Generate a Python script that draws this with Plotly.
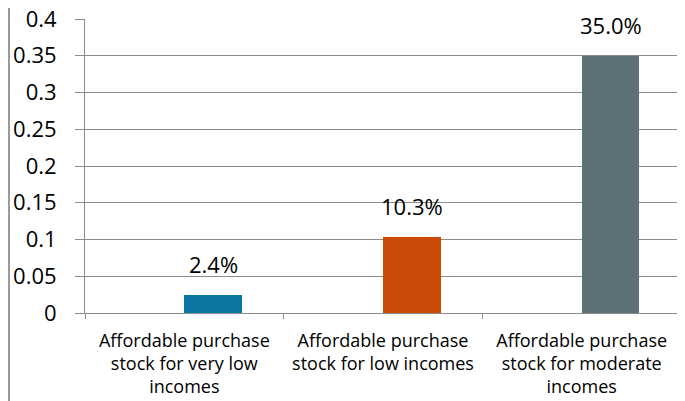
import plotly.graph_objects as go

categories = [
    "Affordable purchase<br>stock for very low<br>incomes",
    "Affordable purchase<br>stock for low incomes",
    "Affordable purchase<br>stock for moderate<br>incomes",
]
values = [0.024, 0.103, 0.35]
colors = ["#0B76A1", "#CB4A07", "#5B7176"]
labels = [f"{v:.1%}" for v in values]

BAR_W = 0.29
FONT = "Open Sans, Lato, sans-serif"

fig = go.Figure()
fig.add_trace(go.Bar(
    x=categories, y=values, marker=dict(color=colors, line=dict(width=0)),
    width=BAR_W, offset=0.0, showlegend=False, hoverinfo="skip",
))

for c, v, t in zip(categories, values, labels):
    fig.add_annotation(x=c, y=v, text=t, showarrow=False, xref="x", yref="y",
                       xanchor="center", yanchor="bottom", xshift=29, yshift=14,
                       font=dict(family=FONT, size=22, color="#000000"))

# chart border on left
fig.add_shape(type="line", xref="paper", yref="paper", x0=-0.1267, x1=-0.1267,
              y0=-0.4, y1=1.1, line=dict(color="#9a9a9a", width=2))

fig.update_layout(
    width=677, height=393,
    margin=dict(l=77, r=0, t=11, b=88, autoexpand=False),
    paper_bgcolor="white", plot_bgcolor="white",
    bargap=0,
    font=dict(family=FONT, color="#000000"),
    xaxis=dict(
        range=[-0.5, 2.52], showgrid=False, showline=True, linecolor="#8c8c8c", linewidth=1,
        ticks="outside", tickson="boundaries", ticklen=5, tickcolor="#8c8c8c",
        tickfont=dict(family=FONT, size=18, color="#000000"), tickangle=0,
        ticklabelstandoff=11, automargin=False, ticklabeloverflow="allow",
    ),
    yaxis=dict(
        range=[0, 0.4], dtick=0.05, tick0=0, showgrid=True, gridcolor="#8c8c8c", gridwidth=1,
        showline=True, linecolor="#8c8c8c", linewidth=1, zeroline=False,
        ticks="outside", ticklen=9, tickcolor="#8c8c8c",
        ticklabelstandoff=14, automargin=False, ticklabeloverflow="allow",
        tickfont=dict(family=FONT, size=22, color="#000000"),
    ),
)

fig.write_html("out.html")
